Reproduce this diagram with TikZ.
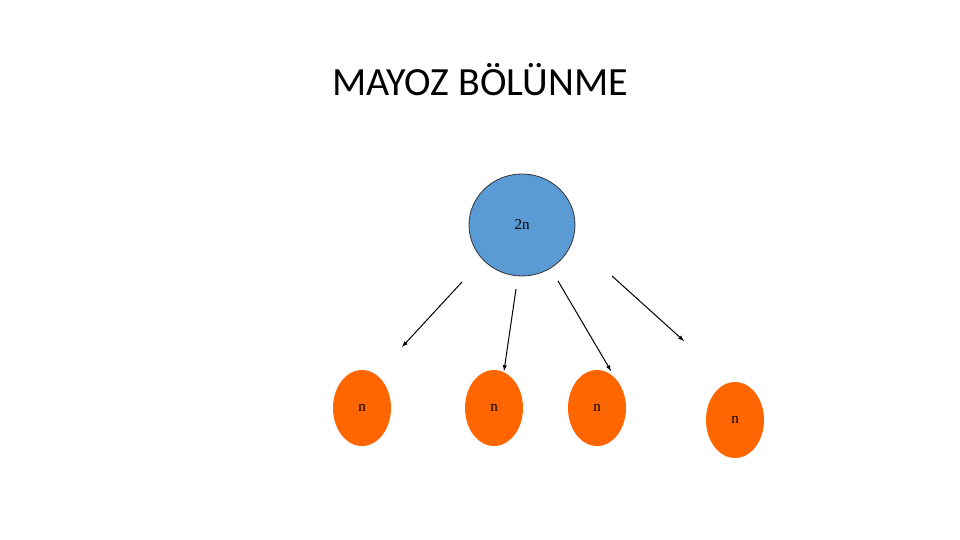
\documentclass[tikz,border=0pt]{standalone}
\usepackage{fontspec}
\usetikzlibrary{shapes.geometric}
\setmainfont{Liberation Serif}
\newfontfamily\titlefont{Carlito}
\definecolor{orangec}{HTML}{FF6600}
\definecolor{bluec}{HTML}{5B9BD5}
\begin{document}
\begin{tikzpicture}[x=1pt,y=-1pt,
  cell/.style={ellipse,fill=orangec,minimum width=58pt,minimum height=76pt,inner sep=0pt,font=\fontsize{15}{15}\selectfont},
  arr/.style={-latex,line width=1pt}]
\useasboundingbox (0,0) rectangle (960,540);
\node[font=\titlefont\fontsize{40}{40}\selectfont] (title) at (480,80) {MAYOZ BÖLÜNME};
\node[ellipse,fill=bluec,draw=black!80,line width=0.8pt,minimum width=106pt,minimum height=102pt,inner sep=0pt,font=\fontsize{15}{15}\selectfont] (p) at (522,225) {2n};
\node[cell] (a) at (362,408) {n};
\node[cell] (b) at (494,408) {n};
\node[cell] (c) at (597,408) {n};
\node[cell] (d) at (735,420) {n};
\coordinate (s1) at (462,282); \coordinate (e1) at (402,347);
\coordinate (s2) at (516,289); \coordinate (e2) at (504,371);
\coordinate (s3) at (558,281); \coordinate (e3) at (611,371);
\coordinate (s4) at (612,276); \coordinate (e4) at (684,341);
\draw[arr] (s1) -- (e1);
\draw[arr] (s2) -- (e2);
\draw[arr] (s3) -- (e3);
\draw[arr] (s4) -- (e4);
\end{tikzpicture}
\end{document}
